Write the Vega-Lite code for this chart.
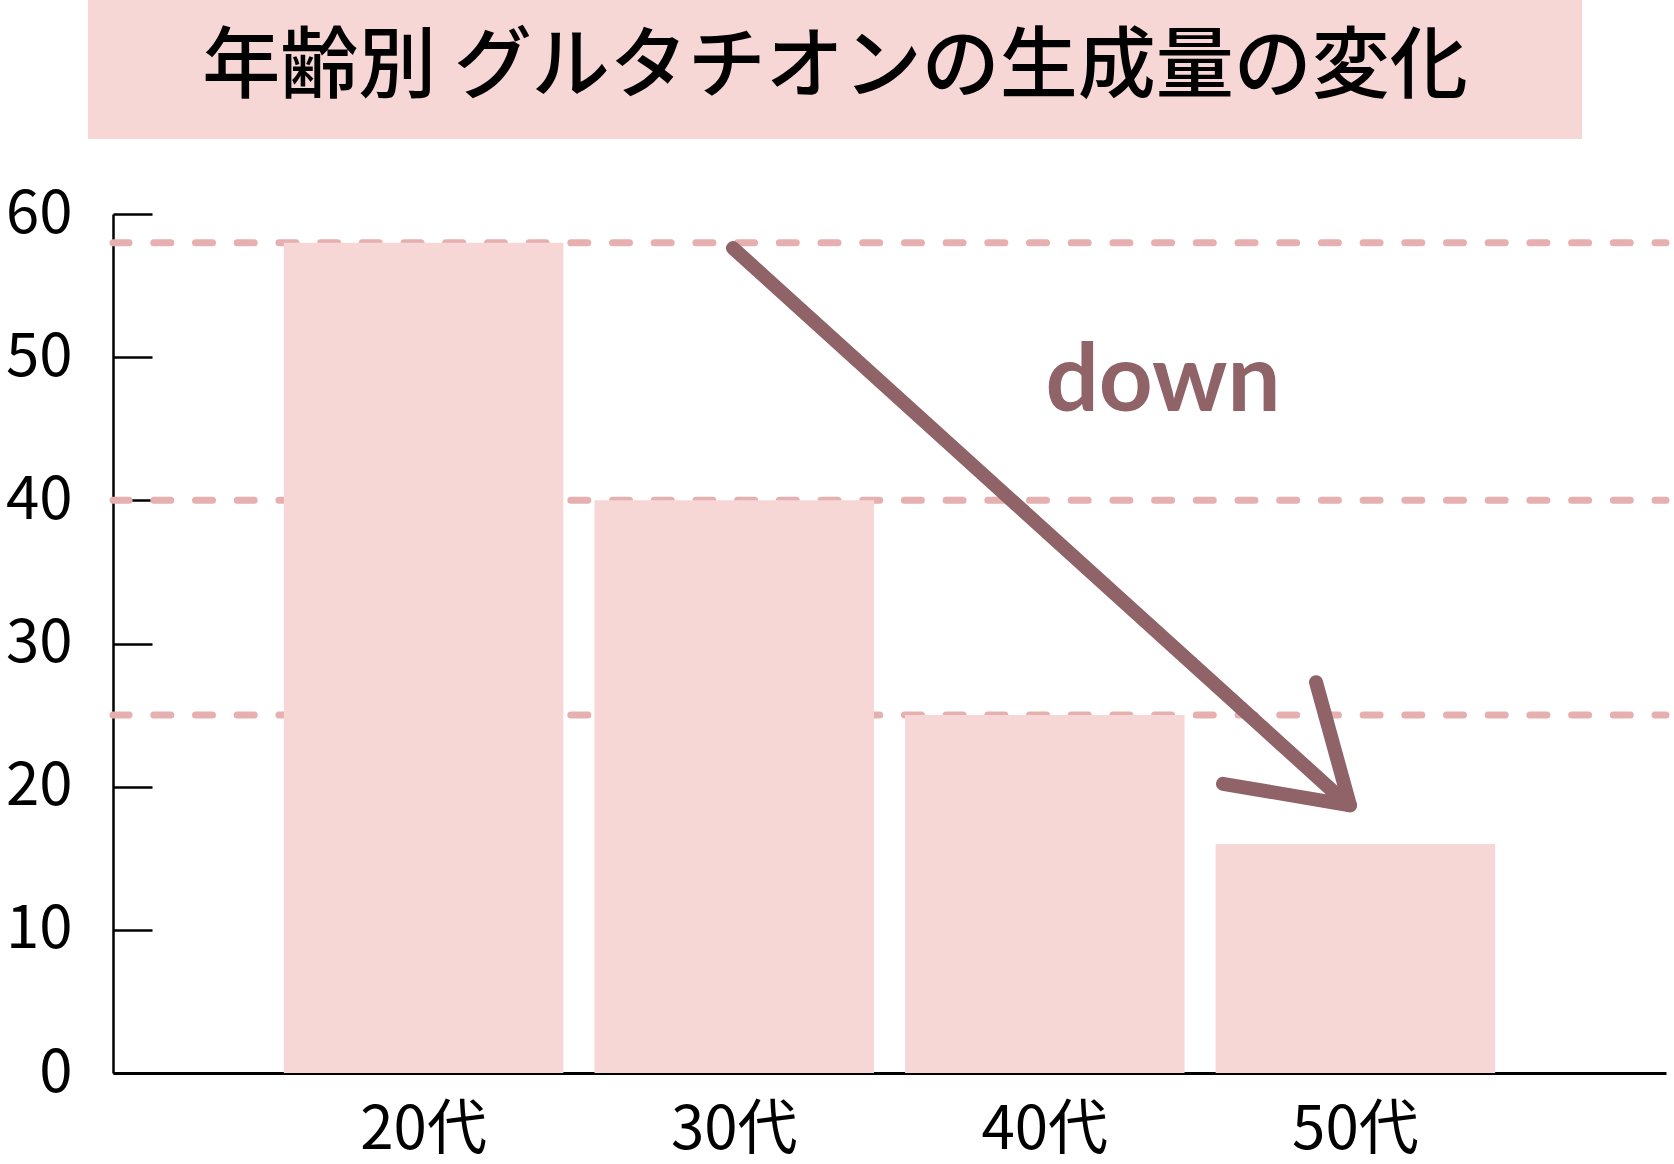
{
  "$schema": "https://vega.github.io/schema/vega-lite/v6.json",
  "width": 1553,
  "height": 859,
  "autosize": {"type": "none"},
  "padding": {"left": 113, "top": 214, "right": 8, "bottom": 91},
  "background": "white",
  "config": {
    "view": {"stroke": null},
    "font": "Noto Sans CJK JP"
  },
  "datasets": {
    "bars": [
      {"age": "20代", "value": 58},
      {"age": "30代", "value": 40},
      {"age": "40代", "value": 25},
      {"age": "50代", "value": 16}
    ],
    "arrow": [
      {"seg": "shaft", "px": 620, "v": 57.62},
      {"seg": "shaft", "px": 1226, "v": 19.3},
      {"seg": "head1", "px": 1203, "v": 27.3},
      {"seg": "head1", "px": 1237, "v": 18.7},
      {"seg": "head2", "px": 1110, "v": 20.2},
      {"seg": "head2", "px": 1237, "v": 18.7}
    ]
  },
  "resolve": {"scale": {"x": "independent"}},
  "layer": [
    {
      "data": {"values": [{"value": 58}, {"value": 40}, {"value": 25}]},
      "mark": {
        "type": "rule",
        "color": "#e6b0b0",
        "strokeWidth": 7,
        "strokeDash": [17, 24.7],
        "strokeDashOffset": 6,
        "strokeCap": "round"
      },
      "encoding": {
        "y": {
          "field": "value",
          "type": "quantitative",
          "scale": {"domain": [0, 60], "nice": false},
          "axis": {
            "title": null,
            "values": [0, 10, 20, 30, 40, 50, 60],
            "grid": false,
            "labelFontSize": 60,
            "labelColor": "black",
            "tickSize": -39,
            "tickWidth": 2.5,
            "tickColor": "black",
            "labelPadding": 80,
            "domainColor": "black",
            "domainWidth": 2.5
          }
        }
      }
    },
    {
      "data": {"name": "bars"},
      "mark": {"type": "bar", "color": "#f7d7d6"},
      "encoding": {
        "x": {
          "field": "age",
          "type": "nominal",
          "sort": null,
          "scale": {"paddingInner": 0.1, "paddingOuter": 0.55},
          "axis": {
            "title": null,
            "labelAngle": 0,
            "labelFontSize": 60,
            "labelColor": "black",
            "labelPadding": 28,
            "ticks": false,
            "tickSize": 0,
            "domainColor": "black",
            "domainWidth": 3
          }
        },
        "y": {"field": "value", "type": "quantitative"}
      }
    },
    {
      "data": {"values": [{"x1": -25, "x2": 1469, "y1": 65.24, "y2": 76}]},
      "mark": {"type": "rect", "color": "#f7d7d6"},
      "encoding": {
        "x": {"field": "x1", "type": "quantitative", "scale": {"domain": [0, 1553], "nice": false, "zero": false}, "axis": null},
        "x2": {"field": "x2"},
        "y": {"field": "y1", "type": "quantitative"},
        "y2": {"field": "y2"}
      }
    },
    {
      "data": {"values": [{"px": 722, "v": 70.16, "label": "年齢別 グルタチオンの生成量の変化"}]},
      "mark": {"type": "text", "fontSize": 78, "fontWeight": 500, "color": "black", "align": "center", "baseline": "middle"},
      "encoding": {
        "x": {"field": "px", "type": "quantitative", "scale": {"domain": [0, 1553], "nice": false, "zero": false}, "axis": null},
        "y": {"field": "v", "type": "quantitative"},
        "text": {"field": "label"}
      }
    },
    {
      "data": {"name": "arrow"},
      "mark": {"type": "line", "color": "#8f6367", "strokeWidth": 14, "strokeCap": "round", "strokeJoin": "round"},
      "encoding": {
        "x": {"field": "px", "type": "quantitative", "scale": {"domain": [0, 1553], "nice": false, "zero": false}, "axis": null},
        "y": {"field": "v", "type": "quantitative"},
        "detail": {"field": "seg"}
      }
    },
    {
      "data": {"values": [{"px": 1050, "v": 46.24, "label": "down"}]},
      "mark": {"type": "text", "font": "Lato", "fontWeight": "bold", "fontSize": 94, "color": "#8f6367", "align": "center", "baseline": "alphabetic"},
      "encoding": {
        "x": {"field": "px", "type": "quantitative", "scale": {"domain": [0, 1553], "nice": false, "zero": false}, "axis": null},
        "y": {"field": "v", "type": "quantitative"},
        "text": {"field": "label"}
      }
    }
  ]
}
